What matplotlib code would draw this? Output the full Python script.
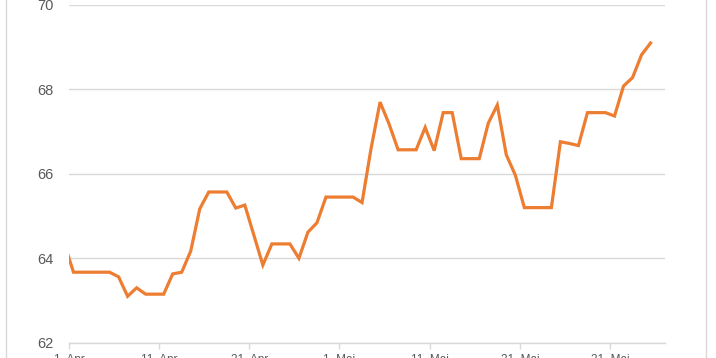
import numpy as np
import pandas as pd
import matplotlib
matplotlib.use("Agg")
from matplotlib import pyplot as plt
from matplotlib.patches import Rectangle

plt.rcParams['font.family'] = ['Liberation Sans', 'DejaVu Sans']

# daily values, 31 Mar .. 4 Jun (first point sits left of the axis and gets clipped)
start_date = "2020-03-31"
values = [64.33,
          63.67, 63.67, 63.67, 63.67, 63.67, 63.56, 63.10, 63.30, 63.15, 63.15,
          63.15, 63.63, 63.67, 64.17, 65.17, 65.57, 65.57, 65.57, 65.19, 65.26,
          64.55, 63.84, 64.34, 64.34, 64.34, 64.00, 64.62, 64.84, 65.45, 65.45,
          65.45, 65.45, 65.32, 66.60, 67.70, 67.18, 66.57, 66.57, 66.57, 67.10,
          66.55, 67.45, 67.45, 66.36, 66.36, 66.36, 67.20, 67.63, 66.45, 65.97,
          65.20, 65.20, 65.20, 65.20, 66.76, 66.72, 66.67, 67.45, 67.45, 67.45,
          67.37, 68.08, 68.28, 68.82, 69.10]

tick_dates = ["2020-04-01", "2020-04-11", "2020-04-21", "2020-05-01",
              "2020-05-11", "2020-05-21", "2020-05-31"]
tick_labels = ["1. Apr", "11. Apr", "21. Apr", "1. Mai", "11. Mai", "21. Mai", "31. Mai"]
y_ticks = [62, 64, 66, 68, 70]

dates = pd.date_range(start_date, periods=len(values), freq="D") + pd.Timedelta(hours=12)

fig = plt.figure(figsize=(7.16, 3.58), dpi=100)
ax = fig.add_axes([69 / 716, 15.3 / 358, 596 / 716, 337.7 / 358])

# chart frame (only left/right edges visible in the crop)
fig.patches.append(Rectangle((6 / 716, -0.05), 700 / 716, 1.1, transform=fig.transFigure,
                             fill=False, edgecolor="#D9D9D9", linewidth=1))

ax.plot(dates, values, color="#ED7D31", linewidth=2.3, solid_joinstyle="miter")

ax.set_xlim(pd.Timestamp("2020-04-01"), pd.Timestamp("2020-04-01") + pd.Timedelta(days=66.1))
ax.set_ylim(62, 70)
ax.set_yticks(y_ticks)
ax.set_yticklabels([str(v) for v in y_ticks])
ax.set_xticks(pd.to_datetime(tick_dates))
ax.set_xticklabels(tick_labels)

ax.grid(axis="y", color="#D9D9D9", linewidth=1)
ax.set_axisbelow(True)
for s in ["top", "right", "left"]:
    ax.spines[s].set_visible(False)
ax.spines["bottom"].set_color("#D9D9D9")
ax.spines["bottom"].set_linewidth(1)

ax.tick_params(axis="y", length=0, pad=11, labelsize=10.5, labelcolor="#595959")
ax.tick_params(axis="x", length=4, width=1, color="#D9D9D9", pad=4, labelsize=8.5, labelcolor="#595959")

fig.savefig("out.png", dpi=100)
